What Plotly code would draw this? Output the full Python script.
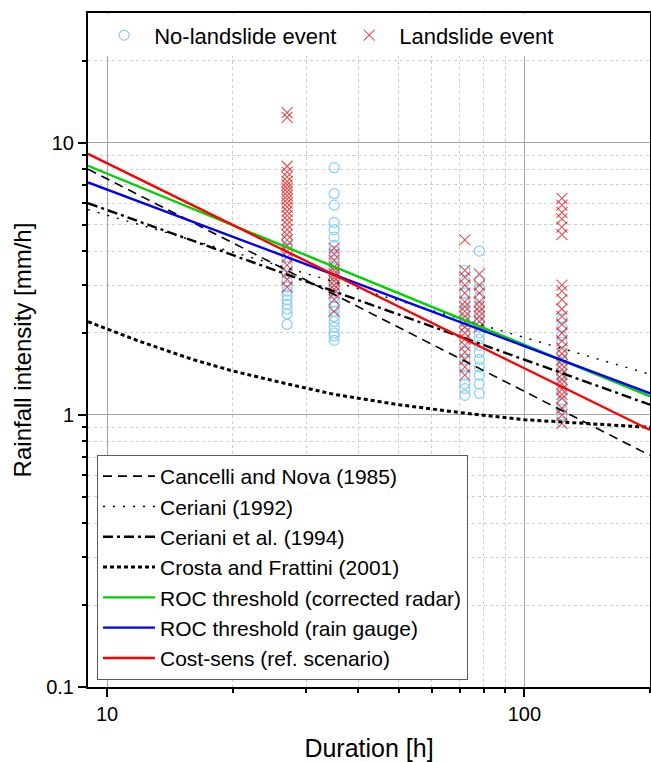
import plotly.graph_objects as go

# ---------------- data ----------------
# No-landslide events: durations [h] and intensities [mm/h]
nols_d27 = [4.4, 4.1, 3.8, 3.5, 3.3, 3.1, 2.95, 2.85, 2.75, 2.65, 2.55, 2.45, 2.35, 2.15]
nols_d35 = [8.1, 6.5, 5.9, 5.1, 4.8, 4.5, 4.2, 4.0, 3.8, 3.6, 3.45, 3.3, 3.15, 3.0, 2.85,
            2.7, 2.6, 2.5, 2.4, 2.3, 2.2, 2.1, 2.0, 1.95, 1.88]
nols_d72 = [3.4, 3.1, 2.8, 2.6, 2.4, 2.2, 2.0, 1.85, 1.7, 1.6, 1.5, 1.4, 1.3, 1.25, 1.18]
nols_d78 = [4.0, 3.1, 2.9, 2.7, 2.5, 2.35, 2.2, 2.1, 2.0, 1.9, 1.8, 1.7, 1.6, 1.5, 1.4, 1.3, 1.2]
nols_d123 = [2.25, 2.1, 1.95, 1.85, 1.7, 1.6, 1.5, 1.4, 1.3, 1.2, 1.1, 1.05, 1.0, 0.94]

# Landslide events
ls_d27 = [12.9, 12.4, 8.2, 7.8, 7.5, 7.2, 7.0, 6.8, 6.6, 6.4, 6.2, 6.0, 5.8, 5.6, 5.4, 5.2,
          5.0, 4.8, 4.6, 4.4, 4.2, 4.0, 3.8, 3.55, 3.35, 3.15, 2.95]
ls_d35 = [4.1, 3.9, 3.7, 3.5, 3.4, 3.3, 3.2, 3.1, 3.0, 2.9, 2.8, 2.65, 2.4]
ls_d72 = [4.4, 3.4, 3.2, 3.0, 2.8, 2.6, 2.5, 2.4, 2.3, 2.2, 2.1, 2.0, 1.9, 1.8, 1.7, 1.6, 1.5, 1.4]
ls_d78 = [3.3, 3.0, 2.8, 2.6, 2.5, 2.4, 2.3, 2.2, 2.1]
ls_d123 = [6.25, 5.9, 5.55, 5.25, 4.9, 4.6, 3.0, 2.85, 2.65, 2.45, 2.3, 2.15, 2.0, 1.87, 1.76,
           1.68, 1.6, 1.53, 1.47, 1.41, 1.35, 1.3, 1.24, 1.19, 1.15, 1.06, 1.0, 0.93]

event_durations = [27, 35, 72, 78, 123]
nols_groups = [nols_d27, nols_d35, nols_d72, nols_d78, nols_d123]
ls_groups = [ls_d27, ls_d35, ls_d72, ls_d78, ls_d123]

# Threshold curves: durations and intensities
line_d = [9, 200]
cancelli_i = [8.0, 0.71]
ceriani92_i = [5.68, 1.41]
ceriani94_i = [6.0, 1.09]
roc_radar_i = [8.23, 1.17]
roc_gauge_i = [7.15, 1.20]
costsens_i = [9.1, 0.88]

crosta_d = [9, 12, 16, 20, 27, 35, 50, 70, 100, 140, 200]
crosta_i = [2.2, 1.86, 1.60, 1.45, 1.30, 1.19, 1.09, 1.02, 0.96, 0.93, 0.90]

legend_top = ["No-landslide event", "Landslide event"]
legend_lines = ["Cancelli and Nova (1985)", "Ceriani (1992)", "Ceriani et al. (1994)",
                "Crosta and Frattini (2001)", "ROC threshold (corrected radar)",
                "ROC threshold (rain gauge)", "Cost-sens (ref. scenario)"]

x_ticks = [10, 100]
y_ticks = [0.1, 1, 10]
x_minor = [20, 30, 40, 50, 60, 70, 80, 90, 200]
y_minor = [0.2, 0.3, 0.4, 0.5, 0.6, 0.7, 0.8, 0.9, 2, 3, 4, 5, 6, 7, 8, 9, 20]

# ---------------- figure ----------------
FONT = "Arial, Liberation Sans, sans-serif"


def expand(durs, groups):
    xs, ys = [], []
    for d, g in zip(durs, groups):
        xs += [d] * len(g)
        ys += list(g)
    return xs, ys


fig = go.Figure()

nx, ny = expand(event_durations, nols_groups)
lx, ly = expand(event_durations, ls_groups)

fig.add_trace(go.Scatter(
    x=nx, y=ny, mode="markers", name=legend_top[0], legend="legend",
    marker=dict(symbol="circle-open", size=10, color="rgb(135,206,250)",
                line=dict(width=1.2, color="rgb(135,206,250)")),
))
fig.add_trace(go.Scatter(
    x=lx, y=ly, mode="markers", name=legend_top[1], legend="legend",
    marker=dict(symbol="x-thin-open", size=11, color="rgba(220,40,40,0.8)",
                line=dict(width=1.1, color="rgba(220,40,40,0.8)")),
))

line_specs = [
    (line_d, cancelli_i, "black", 1.6, "9px,6px"),
    (line_d, ceriani92_i, "black", 1.4, "2px,8px"),
    (line_d, ceriani94_i, "black", 2.4, "10px,4px,3px,4px"),
    (crosta_d, crosta_i, "black", 3.0, "4px,3px"),
    (line_d, roc_radar_i, "rgb(0,210,0)", 2.4, "solid"),
    (line_d, roc_gauge_i, "rgb(0,0,255)", 2.4, "solid"),
    (line_d, costsens_i, "rgb(255,0,0)", 2.4, "solid"),
]
for (xs, ys, col, w, dash), name in zip(line_specs, legend_lines):
    fig.add_trace(go.Scatter(
        x=xs, y=ys, mode="lines", name=name, legend="legend2",
        line=dict(color=col, width=w, dash=dash),
    ))

axis_common = dict(
    type="log",
    showline=True, linecolor="black", linewidth=2, mirror=True,
    ticks="outside", ticklen=8, tickwidth=1.5, tickcolor="black",
    showgrid=True, gridcolor="rgb(165,165,165)", gridwidth=1,
    tickfont=dict(family=FONT, size=20, color="black"),
    zeroline=False,
)

fig.update_xaxes(
    **axis_common,
    range=[0.9542, 2.301],
    tickvals=x_ticks, ticktext=[str(v) for v in x_ticks],
    minor=dict(tickvals=x_minor, ticks="outside", ticklen=4, tickcolor="black",
               showgrid=True, gridcolor="rgb(205,205,205)", griddash="dot", gridwidth=1),
    title=dict(text="Duration [h]", font=dict(family=FONT, size=25, color="black"), standoff=17),
)
fig.update_yaxes(
    **axis_common,
    range=[-1, 1.477],
    tickvals=y_ticks, ticktext=["0.1", "1", "10"],
    minor=dict(tickvals=y_minor, ticks="outside", ticklen=4, tickcolor="black",
               showgrid=True, gridcolor="rgb(205,205,205)", griddash="dot", gridwidth=1),
    title=dict(text="Rainfall intensity [mm/h]", font=dict(family=FONT, size=24, color="black"),
               standoff=8),
)

fig.update_layout(
    width=651, height=762,
    margin=dict(l=88, r=1, t=13, b=75, autoexpand=False),
    paper_bgcolor="white", plot_bgcolor="white",
    font=dict(family=FONT, color="black"),
    legend=dict(
        orientation="h", x=0.011, y=0.998, xanchor="left", yanchor="top",
        bgcolor="white", borderwidth=0,
        font=dict(family=FONT, size=22, color="black"),
        itemwidth=50,
        entrywidth=180, entrywidthmode="pixels",
    ),
    legend2=dict(
        orientation="v", x=0.016, y=0.0104, xanchor="left", yanchor="bottom",
        bgcolor="white", bordercolor="rgb(90,90,90)", borderwidth=1,
        font=dict(family=FONT, size=21, color="black"),
        itemwidth=52,
        tracegroupgap=0,
    ),
    showlegend=True,
)

fig.write_html("out.html")
